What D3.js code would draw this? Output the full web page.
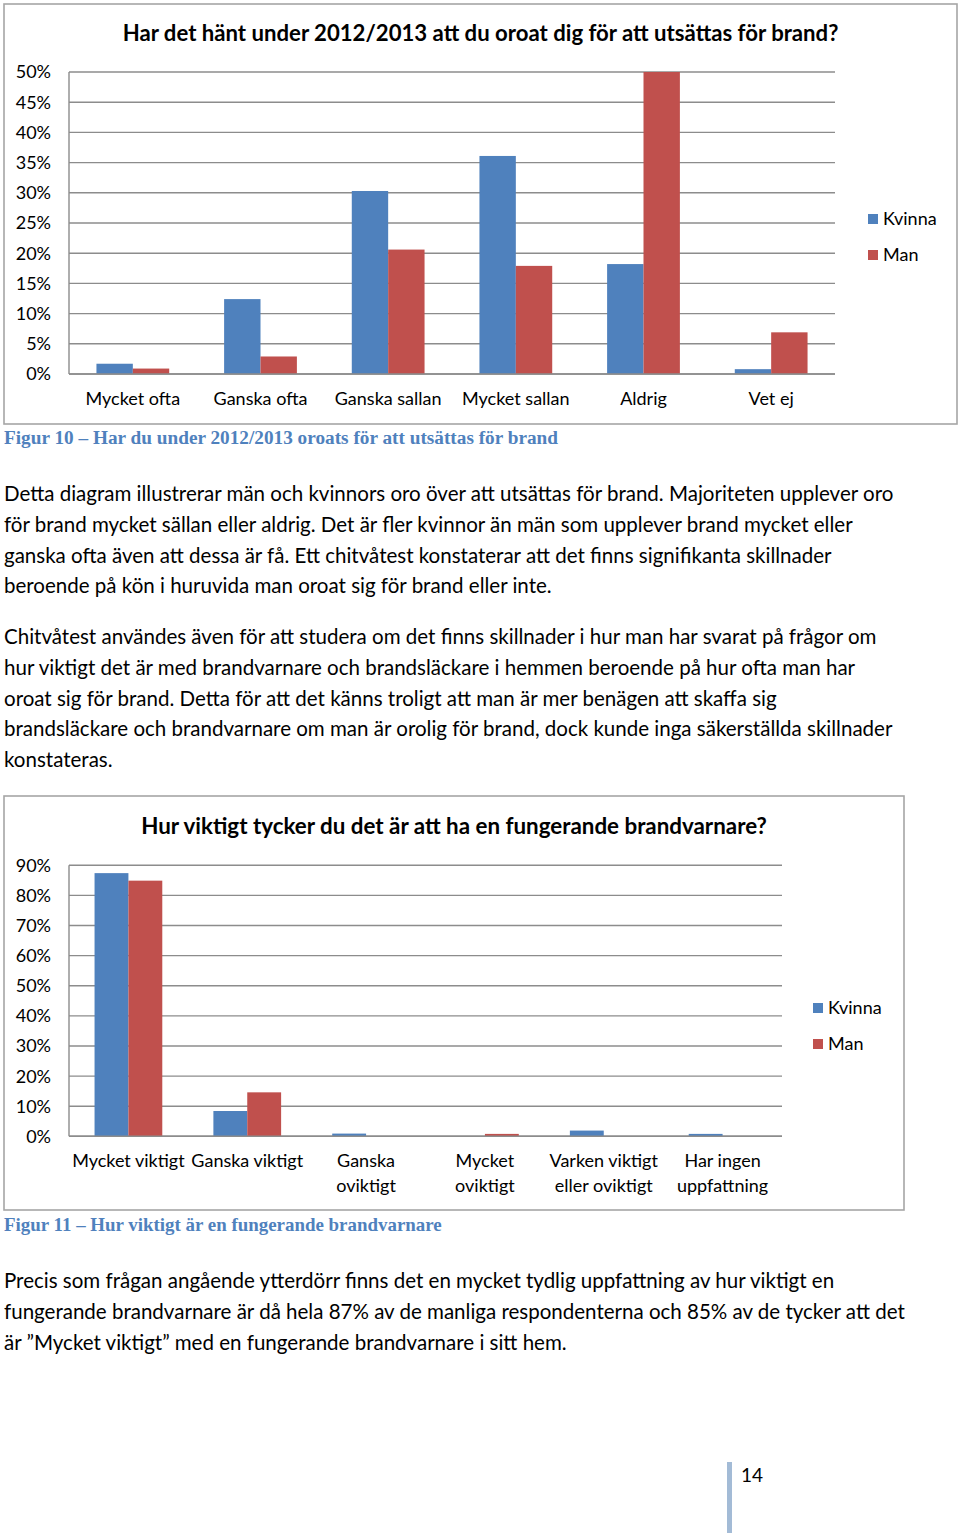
<!DOCTYPE html>
<html><head><meta charset="utf-8">
<script src="https://cdn.jsdelivr.net/npm/d3@7"></script>
<style>
html,body{margin:0;padding:0;background:#fff;}
svg{display:block;}
</style></head>
<body>
<script>
// ---------- DATA ----------
const series = ["Kvinna", "Man"];
const categories1 = ["Mycket ofta", "Ganska ofta", "Ganska sallan", "Mycket sallan", "Aldrig", "Vet ej"];
const kvinna1 = [1.7, 12.4, 30.3, 36.1, 18.2, 0.8];
const man1 = [0.9, 2.9, 20.6, 17.9, 50.0, 6.9];
const ticks1 = [0, 5, 10, 15, 20, 25, 30, 35, 40, 45, 50];

const categories2 = [["Mycket viktigt"], ["Ganska viktigt"], ["Ganska", "oviktigt"], ["Mycket", "oviktigt"], ["Varken viktigt", "eller oviktigt"], ["Har ingen", "uppfattning"]];
const kvinna2 = [87.4, 8.4, 0.9, 0, 1.9, 0.8];
const man2 = [84.9, 14.6, 0, 0.8, 0, 0];
const ticks2 = [0, 10, 20, 30, 40, 50, 60, 70, 80, 90];

const title1 = "Har det hänt under 2012/2013 att du oroat dig för att utsättas för brand?";
const title2 = "Hur viktigt tycker du det är att ha en fungerande brandvarnare?";
const caption1 = "Figur 10 – Har du under 2012/2013 oroats för att utsättas för brand";
const caption2 = "Figur 11 – Hur viktigt är en fungerande brandvarnare";
const para1 = ["Detta diagram illustrerar män och kvinnors oro över att utsättas för brand. Majoriteten upplever oro",
  "för brand mycket sällan eller aldrig. Det är fler kvinnor än män som upplever brand mycket eller",
  "ganska ofta även att dessa är få. Ett chitvåtest konstaterar att det finns signifikanta skillnader",
  "beroende på kön i huruvida man oroat sig för brand eller inte."];
const para2 = ["Chitvåtest användes även för att studera om det finns skillnader i hur man har svarat på frågor om",
  "hur viktigt det är med brandvarnare och brandsläckare i hemmen beroende på hur ofta man har",
  "oroat sig för brand. Detta för att det känns troligt att man är mer benägen att skaffa sig",
  "brandsläckare och brandvarnare om man är orolig för brand, dock kunde inga säkerställda skillnader",
  "konstateras."];
const para3 = ["Precis som frågan angående ytterdörr finns det en mycket tydlig uppfattning av hur viktigt en",
  "fungerande brandvarnare är då hela 87% av de manliga respondenterna och 85% av de tycker att det",
  "är ”Mycket viktigt” med en fungerande brandvarnare i sitt hem."];
const pageNumber = "14";

// ---------- STYLE ----------
const W = 960, H = 1533;
const colors = {Kvinna: "#4f81bd", Man: "#c0504d"};
const FONT = "Lato, 'Open Sans', sans-serif";
const SERIF = "'Liberation Serif', 'DejaVu Serif', serif";

const svg = d3.select("body").append("svg").attr("width", W).attr("height", H)
  .style("font-family", FONT);

function fitWidth(sel, target) {
  const w = sel.node().getComputedTextLength();
  const fs = parseFloat(sel.attr("font-size"));
  const nf = fs * target / w;
  sel.attr("font-size", nf.toFixed(2));
  return nf;
}

function drawChart(cfg) {
  const g = svg.append("g");
  g.append("rect").attr("x", cfg.frame[0]).attr("y", cfg.frame[1])
    .attr("width", cfg.frame[2] - cfg.frame[0]).attr("height", cfg.frame[3] - cfg.frame[1])
    .attr("fill", "#fff").attr("stroke", "#a6a6a6").attr("stroke-width", 1.6);

  const t = g.append("text").attr("x", (cfg.frame[0] + cfg.frame[2]) / 2).attr("y", cfg.titleY)
    .attr("text-anchor", "middle").attr("font-weight", "bold").attr("font-size", 21)
    .attr("fill", "#000").text(cfg.title);
  fitWidth(t, cfg.titleW);

  const x = d3.scaleBand().domain(d3.range(cfg.cats.length)).range([cfg.plot.left, cfg.plot.right])
    .paddingInner(0.43).paddingOuter(0.215);
  const xs = d3.scaleBand().domain(series).range([0, x.bandwidth()]);
  const y = d3.scaleLinear().domain([0, d3.max(cfg.ticks)]).range([cfg.plot.bottom, cfg.plot.top]);

  // gridlines
  g.append("g").selectAll("line").data(cfg.ticks).join("line")
    .attr("x1", cfg.plot.left).attr("x2", cfg.plot.right)
    .attr("y1", d => y(d)).attr("y2", d => y(d))
    .attr("stroke", "#8c8c8c").attr("stroke-width", 1.4);
  // y axis line
  g.append("line").attr("x1", cfg.plot.left).attr("x2", cfg.plot.left)
    .attr("y1", y(d3.max(cfg.ticks))).attr("y2", cfg.plot.bottom)
    .attr("stroke", "#8c8c8c").attr("stroke-width", 1.4);
  // tick labels
  g.append("g").selectAll("text").data(cfg.ticks).join("text")
    .attr("x", cfg.plot.left - 18).attr("y", d => y(d)).attr("dy", "0.36em")
    .attr("text-anchor", "end").attr("font-size", cfg.fs).attr("fill", "#000")
    .text(d => d + "%");

  // bars
  const rows = cfg.cats.map((c, i) => ({i, vals: [{s: "Kvinna", v: cfg.kv[i]}, {s: "Man", v: cfg.man[i]}]}));
  g.append("g").selectAll("g").data(rows).join("g")
    .attr("transform", d => `translate(${x(d.i)},0)`)
    .selectAll("rect").data(d => d.vals).join("rect")
    .attr("x", d => xs(d.s)).attr("width", xs.bandwidth())
    .attr("y", d => y(d.v)).attr("height", d => cfg.plot.bottom - y(d.v))
    .attr("fill", d => colors[d.s]);
  // baseline
  g.append("line").attr("x1", cfg.plot.left).attr("x2", cfg.plot.right)
    .attr("y1", cfg.plot.bottom).attr("y2", cfg.plot.bottom)
    .attr("stroke", "#8c8c8c").attr("stroke-width", 1.4);

  // category labels
  const cl = g.append("g").selectAll("text").data(cfg.cats).join("text")
    .attr("text-anchor", "middle").attr("font-size", cfg.fs).attr("fill", "#000")
    .attr("x", (d, i) => x(i) + x.bandwidth() / 2).attr("y", cfg.catY);
  cl.selectAll("tspan").data(d => Array.isArray(d) ? d : [d]).join("tspan")
    .attr("x", function () { return d3.select(this.parentNode).attr("x"); })
    .attr("dy", (d, j) => j === 0 ? "0.36em" : cfg.catLH)
    .text(d => d);

  // legend
  const lg = g.append("g").selectAll("g").data(series).join("g")
    .attr("transform", (d, i) => `translate(${cfg.legend[0]},${cfg.legend[1] + i * 36})`);
  lg.append("rect").attr("x", 0).attr("y", -5).attr("width", 10).attr("height", 10).attr("fill", d => colors[d]);
  lg.append("text").attr("x", 15).attr("y", 0).attr("dy", "0.36em").attr("font-size", cfg.fs)
    .attr("fill", "#000").text(d => d);
}

drawChart({
  frame: [4, 4, 957, 424], title: title1, titleY: 41, titleW: 716,
  plot: {left: 69, right: 835, top: 72, bottom: 374},
  cats: categories1, kv: kvinna1, man: man1, ticks: ticks1,
  catY: 399, catLH: 24.5, legend: [868, 219], fs: 18
});
drawChart({
  frame: [4, 796, 904, 1210], title: title2, titleY: 834, titleW: 626,
  plot: {left: 69, right: 782, top: 865.3, bottom: 1136.3},
  cats: categories2, kv: kvinna2, man: man2, ticks: ticks2,
  catY: 1161, catLH: 24.5, legend: [813, 1008], fs: 18
});

// captions
function caption(txt, yc, w) {
  const c = svg.append("text").attr("x", 4).attr("y", yc).attr("dy", "0.36em")
    .attr("font-family", SERIF).attr("font-weight", "bold").attr("font-size", 17)
    .attr("fill", "#4f81bd").text(txt);
  fitWidth(c, w);
}
caption(caption1, 437, 554);
caption(caption2, 1224, 438);

// paragraphs: font size fitted once on the first line, shared by all lines
const probe = svg.append("text").attr("font-size", 20).text(para1[0]);
const bodyFs = fitWidth(probe, 890);
probe.remove();
function para(lines, y0) {
  lines.forEach((l, i) => {
    svg.append("text").attr("x", 4).attr("y", y0 + i * 30.6).attr("dy", "0.36em")
      .attr("font-size", bodyFs.toFixed(2)).attr("fill", "#000").text(l);
  });
}
para(para1, 494);
para(para2, 637);
para(para3, 1281);

// page number
svg.append("rect").attr("x", 727).attr("y", 1462).attr("width", 5).attr("height", 71).attr("fill", "#a3bbd6");
svg.append("text").attr("x", 741).attr("y", 1475).attr("dy", "0.36em").attr("font-size", 19)
  .attr("fill", "#000").text(pageNumber);
</script>
</body></html>
